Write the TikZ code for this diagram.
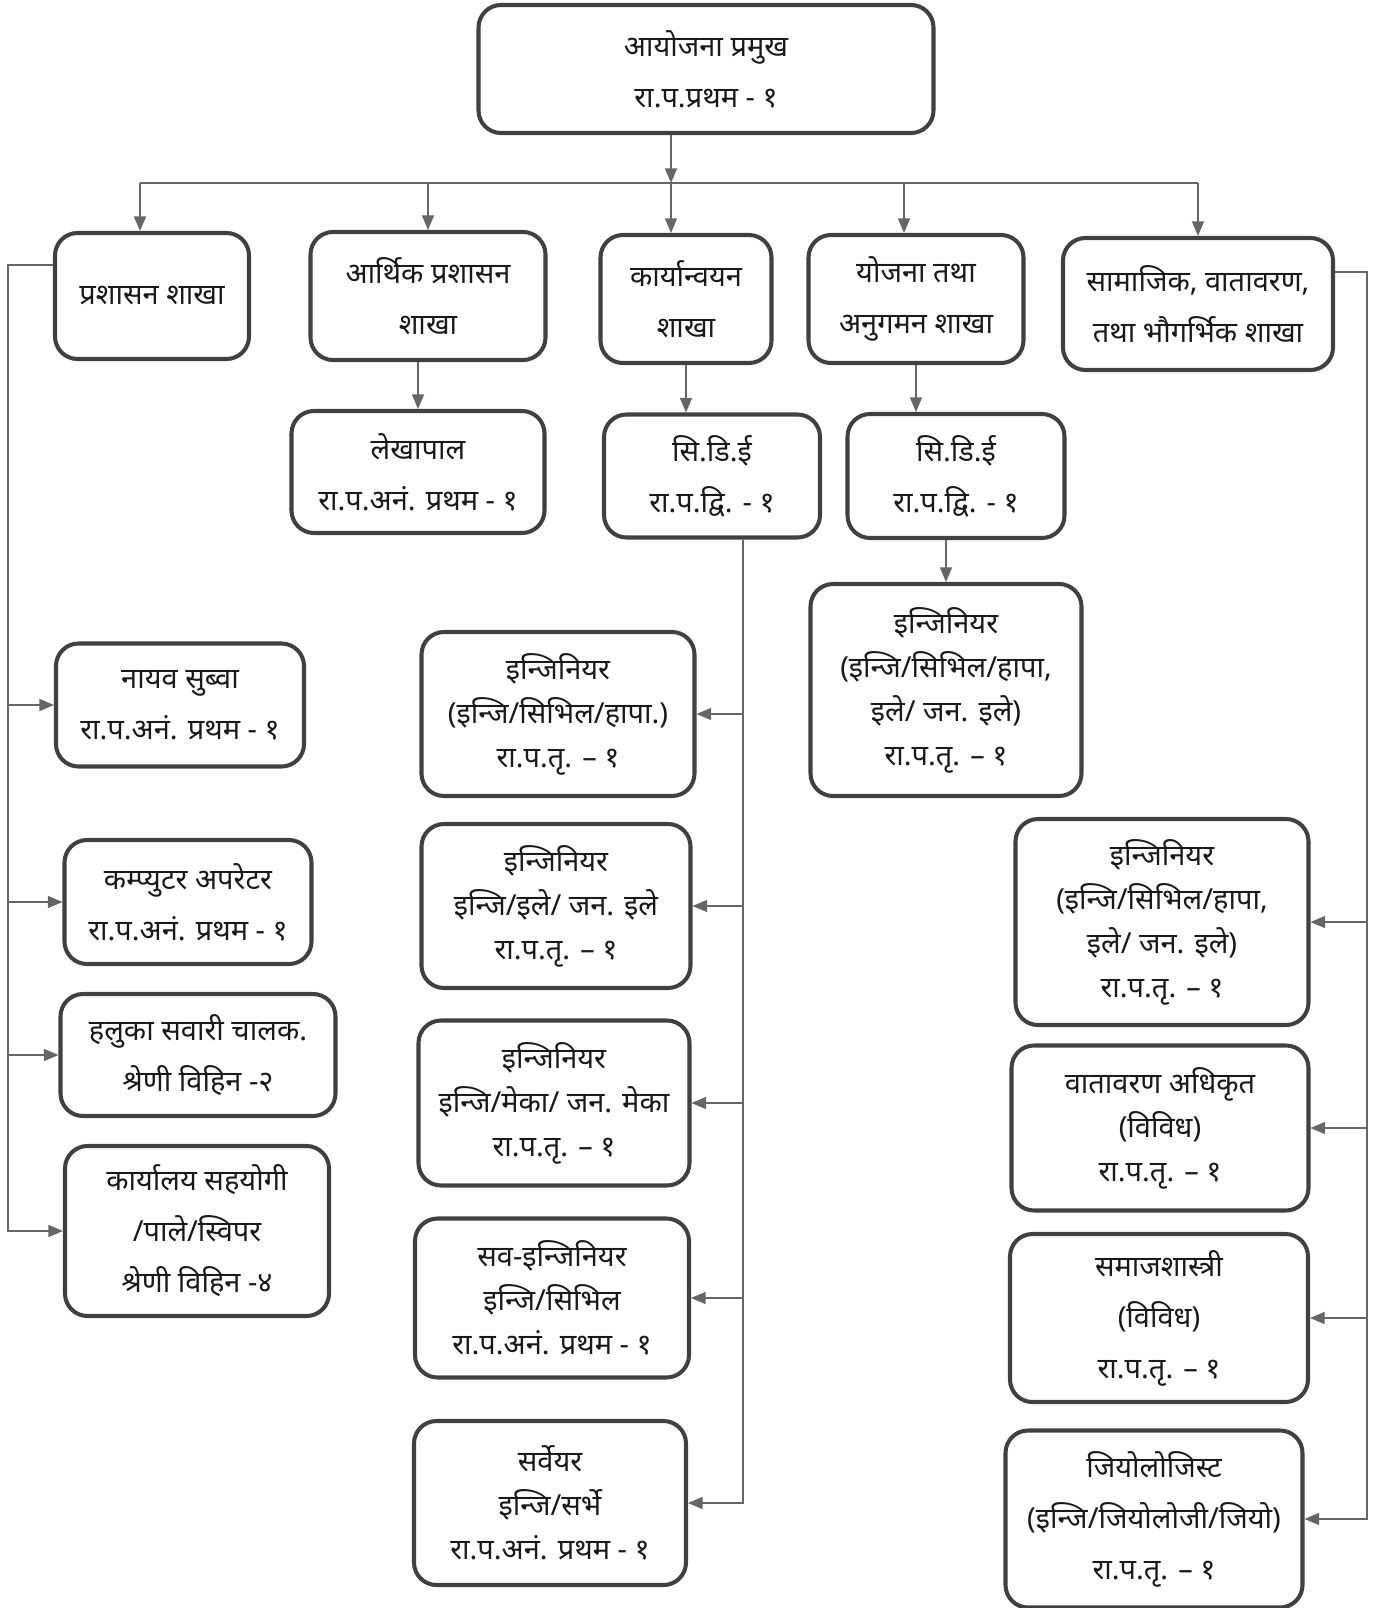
\documentclass[tikz,border=0pt]{standalone}
\usepackage{fontspec}
\newfontfamily\devfont[Script=Devanagari]{Noto Sans}
\usepackage{xcolor}
\usetikzlibrary{arrows,positioning}

\begin{document}
\begin{tikzpicture}[
    postbox/.style={draw=black!75, line width=2.3pt, rounded corners=0.45cm,
                    align=center, inner sep=2pt, text=black!90,
                    font=\devfont\fontsize{16.5}{25}\selectfont},
    wire/.style={draw=black!60, line width=0.9pt}]
  \useasboundingbox (0,0) rectangle (27.78,-32.16);

  % Head of the project
  \node(head)[postbox, minimum width = 9.10 cm, minimum height = 2.56 cm] at (14.12cm, -1.38cm)
       {आयोजना प्रमुख\\[4pt] रा.प.प्रथम - १};

  % Branches
  \node(prashasan)[postbox, minimum width = 3.88 cm, minimum height = 2.52 cm] at (3.04, -5.92) {प्रशासन शाखा};
  \node(arthik)[postbox, minimum width = 4.70 cm, minimum height = 2.56 cm] at (8.56, -5.92) {आर्थिक प्रशासन\\[4pt] शाखा};
  \node(karya)[postbox, minimum width = 3.42 cm, minimum height = 2.56 cm] at (13.72, -5.98) {कार्यान्वयन\\[4pt] शाखा};
  \node(yojana)[postbox, minimum width = 4.30 cm, minimum height = 2.56 cm] at (18.32, -5.98) {योजना तथा\\[4pt] अनुगमन शाखा};
  \node(samajik)[postbox, minimum width = 5.40 cm, minimum height = 2.64 cm] at (23.96, -6.08) {सामाजिक, वातावरण,\\[4pt] तथा भौगर्भिक शाखा};

  % Second row
  \node(lekha)[postbox, minimum width = 5.06 cm, minimum height = 2.44 cm] at (8.36, -9.44) {लेखापाल\\[4pt] रा.प.अनं. प्रथम - १};
  \node(cdeA)[postbox, minimum width = 4.32 cm, minimum height = 2.46 cm] at (14.24, -9.52) {सि.डि.ई\\[4pt] रा.प.द्वि. - १};
  \node(cdeB)[postbox, minimum width = 4.34 cm, minimum height = 2.48 cm] at (19.12, -9.52) {सि.डि.ई\\[4pt] रा.प.द्वि. - १};
  \node(engY)[postbox, minimum width = 5.42 cm, minimum height = 4.24 cm] at (18.92, -13.80)
       {इन्जिनियर\\ (इन्जि/सिभिल/हापा,\\ इले/ जन. इले)\\ रा.प.तृ. – १};

  % Administration column
  \node(nayab)[postbox, minimum width = 4.96 cm, minimum height = 2.46 cm] at (3.60, -14.10) {नायव सुब्वा\\[4pt] रा.प.अनं. प्रथम - १};
  \node(computer)[postbox, minimum width = 4.94 cm, minimum height = 2.48 cm] at (3.76, -18.04) {कम्प्युटर अपरेटर\\[4pt] रा.प.अनं. प्रथम - १};
  \node(driver)[postbox, minimum width = 5.50 cm, minimum height = 2.44 cm] at (3.96, -21.10) {हलुका सवारी चालक.\\[4pt] श्रेणी विहिन -२};
  \node(helper)[postbox, minimum width = 5.28 cm, minimum height = 3.40 cm] at (3.94, -24.62) {कार्यालय सहयोगी\\[4pt] /पाले/स्विपर\\[4pt] श्रेणी विहिन -४};

  % Implementation column
  \node(engA)[postbox, minimum width = 5.46 cm, minimum height = 3.28 cm] at (11.16, -14.28) {इन्जिनियर\\ (इन्जि/सिभिल/हापा.)\\ रा.प.तृ. – १};
  \node(engB)[postbox, minimum width = 5.38 cm, minimum height = 3.28 cm] at (11.12, -18.12) {इन्जिनियर\\ इन्जि/इले/ जन. इले\\ रा.प.तृ. – १};
  \node(engC)[postbox, minimum width = 5.42 cm, minimum height = 3.30 cm] at (11.08, -22.06) {इन्जिनियर\\ इन्जि/मेका/ जन. मेका\\ रा.प.तृ. – १};
  \node(subeng)[postbox, minimum width = 5.48 cm, minimum height = 3.18 cm] at (11.04, -25.96) {सव-इन्जिनियर\\ इन्जि/सिभिल\\ रा.प.अनं. प्रथम - १};
  \node(surveyor)[postbox, minimum width = 5.44 cm, minimum height = 3.28 cm] at (11.00, -30.06) {सर्वेयर\\ इन्जि/सर्भे\\ रा.प.अनं. प्रथम - १};

  % Social and environment column
  \node(engS)[postbox, minimum width = 5.86 cm, minimum height = 4.12 cm] at (23.24, -18.44)
       {इन्जिनियर\\ (इन्जि/सिभिल/हापा,\\ इले/ जन. इले)\\ रा.प.तृ. – १};
  \node(env)[postbox, minimum width = 5.94 cm, minimum height = 3.30 cm] at (23.20, -22.56) {वातावरण अधिकृत\\ (विविध)\\ रा.प.तृ. – १};
  \node(socio)[postbox, minimum width = 5.96 cm, minimum height = 3.36 cm] at (23.18, -26.36) {समाजशास्त्री\\[4pt] (विविध)\\[4pt] रा.प.तृ. – १};
  \node(geo)[postbox, minimum width = 5.94 cm, minimum height = 3.54 cm] at (23.08, -30.38) {जियोलोजिस्ट\\[4pt] (इन्जि/जियोलोजी/जियो)\\[4pt] रा.प.तृ. – १};

  % Bus points
  \coordinate (tbus) at (13.42, -3.66);
  \coordinate (lbus) at (0.16, -5.30);
  \coordinate (mbus) at ([xshift=0.62cm]cdeA.south);
  \coordinate (rbus) at (27.34, -5.44);

  % Arrows from the head
  \draw[wire, arrows=-{triangle 45[scale=1.6]}] (head.south -| tbus) -- (tbus);
  \draw[wire] ([xshift=-0.24cm]prashasan.north |- tbus) -- (samajik.north |- tbus);
  \draw[wire, arrows=-{triangle 45[scale=1.6]}] ([xshift=-0.24cm]prashasan.north |- tbus) -- ([xshift=-0.24cm]prashasan.north);
  \draw[wire, arrows=-{triangle 45[scale=1.6]}] (arthik.north |- tbus) -- (arthik.north);
  \draw[wire, arrows=-{triangle 45[scale=1.6]}] (tbus) -- (tbus |- karya.north);
  \draw[wire, arrows=-{triangle 45[scale=1.6]}] ([xshift=-0.24cm]yojana.north |- tbus) -- ([xshift=-0.24cm]yojana.north);
  \draw[wire, arrows=-{triangle 45[scale=1.6]}] (samajik.north |- tbus) -- (samajik.north);

  % Arrows to the second row
  \draw[wire, arrows=-{triangle 45[scale=1.6]}] (arthik.south -| lekha.north) -- (lekha.north);
  \draw[wire, arrows=-{triangle 45[scale=1.6]}] (karya.south) -- (karya.south |- cdeA.north);
  \draw[wire, arrows=-{triangle 45[scale=1.6]}] (yojana.south) -- (yojana.south |- cdeB.north);
  \draw[wire, arrows=-{triangle 45[scale=1.6]}] (cdeB.south -| engY.north) -- (engY.north);

  % Administration bus
  \draw[wire, arrows=-{triangle 45[scale=1.6]}] (lbus -| prashasan.west) -- (lbus) |- (helper.west);
  \draw[wire, arrows=-{triangle 45[scale=1.6]}] (lbus |- nayab.west) -- (nayab.west);
  \draw[wire, arrows=-{triangle 45[scale=1.6]}] (lbus |- computer.west) -- (computer.west);
  \draw[wire, arrows=-{triangle 45[scale=1.6]}] (lbus |- driver.west) -- (driver.west);

  % Implementation bus
  \draw[wire, arrows=-{triangle 45[scale=1.6]}] (mbus) |- (surveyor.east);
  \draw[wire, arrows=-{triangle 45[scale=1.6]}] (mbus |- engA.east) -- (engA.east);
  \draw[wire, arrows=-{triangle 45[scale=1.6]}] (mbus |- engB.east) -- (engB.east);
  \draw[wire, arrows=-{triangle 45[scale=1.6]}] (mbus |- engC.east) -- (engC.east);
  \draw[wire, arrows=-{triangle 45[scale=1.6]}] (mbus |- subeng.east) -- (subeng.east);

  % Social and environment bus
  \draw[wire, arrows=-{triangle 45[scale=1.6]}] (rbus -| samajik.east) -- (rbus) |- (geo.east);
  \draw[wire, arrows=-{triangle 45[scale=1.6]}] (rbus |- engS.east) -- (engS.east);
  \draw[wire, arrows=-{triangle 45[scale=1.6]}] (rbus |- env.east) -- (env.east);
  \draw[wire, arrows=-{triangle 45[scale=1.6]}] (rbus |- socio.east) -- (socio.east);

\end{tikzpicture}
\end{document}
